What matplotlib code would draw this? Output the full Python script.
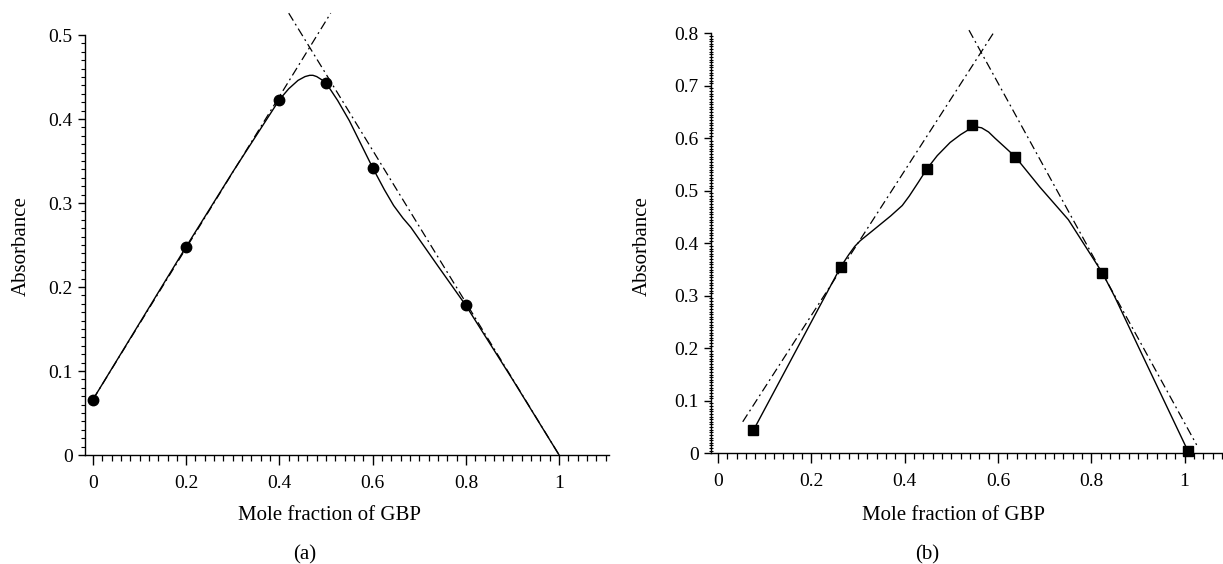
import matplotlib
matplotlib.use('Agg')
import matplotlib.pyplot as plt
import numpy as np
from matplotlib.ticker import FixedLocator

plt.rcParams['font.family'] = ['Liberation Serif', 'DejaVu Serif']

# Data, panel (a): circles
xa = [0, 0.2, 0.4, 0.5, 0.6, 0.8]
ya = [0.066, 0.248, 0.423, 0.443, 0.342, 0.178]
# smooth fitted curve (a)
curve_a_x = [0, 0.1, 0.2, 0.3, 0.4, 0.42, 0.44, 0.455, 0.465, 0.472, 0.48, 0.49, 0.5,
             0.525, 0.55, 0.6, 0.625, 0.645, 0.665, 0.682, 0.74, 0.8, 0.9, 1.0]
curve_a_y = [0.066, 0.157, 0.248, 0.337, 0.423, 0.436, 0.446, 0.4505, 0.452, 0.452, 0.4505, 0.447, 0.443,
             0.422, 0.398, 0.342, 0.316, 0.297, 0.282, 0.271, 0.225, 0.178, 0.09, 0.0]
# extrapolated straight lines (a)
up_a_x = [0, 0.51]
up_a_y = [0.066, 0.526]
down_a_x = [0.42, 1.0]
down_a_y = [0.526, 0.0]

# Data, panel (b): squares
xb = [0.076, 0.263, 0.448, 0.545, 0.637, 0.824, 1.007]
yb = [0.044, 0.355, 0.542, 0.626, 0.565, 0.3435, 0.005]
curve_b_x = [0.076, 0.263, 0.28, 0.293, 0.305, 0.33, 0.37, 0.395, 0.41, 0.43, 0.448,
             0.47, 0.4975, 0.52, 0.54, 0.552, 0.565, 0.58, 0.594, 0.615, 0.637,
             0.69, 0.751, 0.824, 0.85, 0.9, 1.007]
curve_b_y = [0.044, 0.355, 0.378, 0.394, 0.405, 0.423, 0.452, 0.472, 0.49, 0.517, 0.542,
             0.567, 0.592, 0.607, 0.618, 0.622, 0.620, 0.612, 0.600, 0.583, 0.565,
             0.507, 0.445, 0.3435, 0.299, 0.205, 0.005]
up_b_x = [0.053, 0.590]
up_b_y = [0.060, 0.80]
down_b_x = [0.538, 1.026]
down_b_y = [0.806, 0.016]

x_ticks = [0, 0.2, 0.4, 0.6, 0.8, 1]
x_ticklabels = ['0', '0.2', '0.4', '0.6', '0.8', '1']

fig = plt.figure(figsize=(12.23, 5.64), dpi=100)
W, H = 1223, 564
axa = fig.add_axes([85 / W, 1 - 455 / H, 524 / W, 420 / H])
axb = fig.add_axes([711 / W, 1 - 453.3 / H, 512 / W, 420 / H])

dash = (0, (7, 3, 1.5, 3))
fs_tick = 14
fs_lab = 15

def style(ax, xlim, ymax, ystep, yminor, yminor_dir):
    for s in ['top', 'right']:
        ax.spines[s].set_visible(False)
    for s in ['left', 'bottom']:
        ax.spines[s].set_linewidth(1.0)
    ax.set_xlim(*xlim)
    ax.set_ylim(0, ymax)
    ax.set_xticks(x_ticks)
    ax.set_xticklabels(x_ticklabels)
    ax.xaxis.set_minor_locator(FixedLocator(np.arange(0, xlim[1] + 1e-9, 0.02)))
    yt = np.round(np.arange(0, ymax + 1e-9, ystep), 3)
    ax.set_yticks(yt)
    ax.set_yticklabels(['0' if v == 0 else f'{v:g}' for v in yt])
    ax.yaxis.set_minor_locator(FixedLocator(np.arange(0, ymax + 1e-9, yminor)))
    ax.tick_params(axis='x', which='major', direction='out', length=7.5, width=1.0,
                   labelsize=fs_tick, pad=7)
    ax.tick_params(axis='x', which='minor', direction='out', length=4.5, width=0.9)
    ax.tick_params(axis='y', which='major', direction='out', length=5, width=1.0,
                   labelsize=fs_tick, pad=4)
    ax.tick_params(axis='y', which='minor', direction=yminor_dir, length=3, width=0.8)

# panel (a)
axa.plot(up_a_x, up_a_y, color='black', lw=0.9, linestyle=dash, clip_on=False)
axa.plot(down_a_x, down_a_y, color='black', lw=0.9, linestyle=dash, clip_on=False)
axa.plot(curve_a_x, curve_a_y, color='black', lw=1.0)
axa.plot(xa, ya, 'o', color='black', markersize=7.5, zorder=5, clip_on=False)
style(axa, (-0.017, 1.107), 0.5, 0.1, 0.01, 'out')

# panel (b)
axb.plot(up_b_x, up_b_y, color='black', lw=0.9, linestyle=dash, clip_on=False)
axb.plot(down_b_x, down_b_y, color='black', lw=0.9, linestyle=dash, clip_on=False)
axb.plot(curve_b_x, curve_b_y, color='black', lw=1.0)
axb.plot(xb, yb, 's', color='black', markersize=7, zorder=5, clip_on=False)
style(axb, (-0.015, 1.0825), 0.8, 0.1, 0.005, 'inout')

# labels
fig.text(21.5 / W, 1 - 246 / H, 'Absorbance', rotation=90, ha='center', va='center', fontsize=fs_lab)
fig.text(642 / W, 1 - 246 / H, 'Absorbance', rotation=90, ha='center', va='center', fontsize=fs_lab)
fig.text(330 / W, 1 - 515 / H, 'Mole fraction of GBP', ha='center', va='center', fontsize=fs_lab)
fig.text(953 / W, 1 - 515 / H, 'Mole fraction of GBP', ha='center', va='center', fontsize=fs_lab)
fig.text(305 / W, 1 - 555 / H, '(a)', ha='center', va='center', fontsize=fs_lab)
fig.text(927 / W, 1 - 555 / H, '(b)', ha='center', va='center', fontsize=fs_lab)

fig.savefig('out.png', dpi=100)
